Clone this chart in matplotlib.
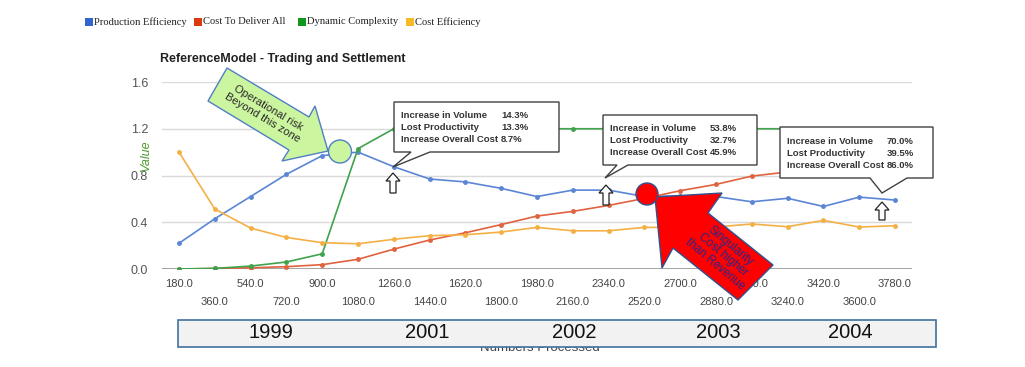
import matplotlib
matplotlib.use("Agg")
import matplotlib.pyplot as plt
from matplotlib.patches import Polygon, Rectangle, Ellipse

W, H = 1025, 367

numbers = [180, 360, 540, 720, 900, 1080, 1260, 1440, 1620, 1800, 1980,
           2160, 2340, 2520, 2700, 2880, 3060, 3240, 3420, 3600, 3780]
production_eff = [0.22, 0.43, 0.62, 0.81, 0.97, 1.00, 0.875, 0.77, 0.745, 0.69, 0.62,
                  0.675, 0.675, 0.62, 0.625, 0.62, 0.575, 0.605, 0.535, 0.615, 0.59]
cost_deliver = [0.0, 0.005, 0.01, 0.02, 0.037, 0.083, 0.17, 0.248, 0.31, 0.38, 0.453,
                0.493, 0.544, 0.604, 0.67, 0.724, 0.795, 0.83, 0.89, 0.95, 1.0]
dynamic_cx = [0.0, 0.005, 0.025, 0.06, 0.13, 1.03, 1.2, 1.2, 1.2, 1.2, 1.2,
              1.2, 1.2, 1.2, 1.2, 1.2, 1.2, 1.2, 1.2, 1.2, 1.2]
cost_eff = [1.0, 0.513, 0.35, 0.27, 0.225, 0.216, 0.254, 0.285, 0.293, 0.316, 0.356,
            0.327, 0.327, 0.356, 0.356, 0.36, 0.385, 0.362, 0.416, 0.359, 0.37]

series = [("Production Efficiency", production_eff, "#5b86d6", "#3366cc"),
          ("Cost To Deliver All", cost_deliver, "#e0623f", "#dc3912"),
          ("Dynamic Complexity", dynamic_cx, "#3fa34d", "#109618"),
          ("Cost Efficiency", cost_eff, "#f4b045", "#f7b924")]

years = ["1999", "2001", "2002", "2003", "2004"]
callouts = [("14.3%", "13.3%", "8.7%"), ("53.8%", "32.7%", "45.9%"), ("70.0%", "39.5%", "86.0%")]
callout_rows = ["Increase in Volume", "Lost Productivity", "Increase Overall Cost"]

plt.rcParams['font.family'] = ['Liberation Sans', 'DejaVu Sans']

fig = plt.figure(figsize=(W / 100, H / 100), dpi=100)
ax = fig.add_axes([162 / W, 1 - 269 / H, 750 / W, 187 / H])


def fx(x, y):
    return (x / W, 1 - y / H)


def poly(pts, z=6, **kw):
    p = Polygon([fx(x, y) for x, y in pts], closed=True, transform=fig.transFigure,
                clip_on=False, zorder=z, **kw)
    ax.add_artist(p)


def ftext(x, y, s, z=8, **kw):
    ax.text(x / W, 1 - y / H, s, transform=fig.transFigure, clip_on=False, zorder=z, **kw)


for name, vals, c, _ in series:
    ax.plot(numbers, vals, color=c, lw=1.2, marker='o', ms=2.5, zorder=3)

ax.set_xlim(94.5, 3865.5)
ax.set_ylim(0, 1.6)
for s in ax.spines.values():
    s.set_visible(False)
ax.set_yticks([0, 0.4, 0.8, 1.2, 1.6], ["0.0", "0.4", "0.8", "1.2", "1.6"])
ax.grid(axis='y', color='#d9d9d9', lw=1)
ax.set_axisbelow(True)
ax.axhline(0, color='#9a9a9a', lw=2, zorder=2)
ax.tick_params(axis='y', length=0, pad=10, labelsize=9, labelcolor='#555555')

ax.set_xticks(numbers[::2], ["%.1f" % v for v in numbers[::2]])
ax.set_xticks(numbers[1::2], ["%.1f" % v for v in numbers[1::2]], minor=True)
ax.tick_params(axis='x', which='major', length=0, pad=7.5, labelsize=8, labelcolor='#444444')
ax.tick_params(axis='x', which='minor', length=0, pad=20.5, labelsize=8, labelcolor='#444444')

# title, axis labels, legend
fig.text(160 / W, 1 - 59 / H, "ReferenceModel - Trading and Settlement", fontsize=9,
         fontweight='bold', color='#222222', va='center')
fig.text(146 / W, 1 - 155 / H, "Value", rotation=90, color='#4e9a2e', style='italic',
         fontsize=9, ha='center', va='center')
# x axis title, mostly hidden behind the year band
ftext(540, 348, "Numbers Processed", z=4, fontsize=9.5, color='#444444',
      ha='center', va='center')

for (name, _, _, sq), x in zip(series, [85, 194, 298, 406]):
    fig.patches.append(Rectangle(fx(x, 26), 8 / W, 8 / H, transform=fig.transFigure,
                                 facecolor=sq, edgecolor='none'))
    fig.text((x + 9) / W, 1 - 22 / H, name, family='Liberation Serif', fontsize=7.6,
             color='#222222', va='center')

# callout boxes
boxes = [[(394, 102), (559, 102), (559, 152), (430, 152), (393, 167), (411, 152), (394, 152)],
         [(603, 115), (757, 115), (757, 165), (628, 165), (605, 178), (617, 165), (603, 165)],
         [(780, 127), (933, 127), (933, 178), (907, 178), (882, 193), (870, 178), (780, 178)]]
text_pos = [(401, 115), (610, 128), (787, 141)]
for pts, (tx, ty), vals in zip(boxes, text_pos, callouts):
    poly(pts, facecolor='white', edgecolor='#404040', lw=1)
    for i, (lab, v) in enumerate(zip(callout_rows, vals)):
        ftext(tx, ty + 12.3 * i, lab, fontsize=6.8, fontweight='bold', color='#333333', va='center')
        ftext(tx + 100, ty + 12.3 * i, v, fontsize=6.8, fontweight='bold', color='#333333', va='center')

# hollow up arrows
for cx, top, bot in [(393, 173, 193), (606, 185, 205), (882, 202, 220)]:
    poly([(cx, top), (cx + 7, top + 8), (cx + 3, top + 8), (cx + 3, bot), (cx - 3, bot),
          (cx - 3, top + 8), (cx - 7, top + 8)], z=7, facecolor='white', edgecolor='#222222', lw=0.9)

# operational risk arrow + circle
poly([(227, 68), (309, 117), (315, 106), (328, 151), (282, 161), (289, 150), (208, 101)],
     z=6, facecolor='#ccf5a0', edgecolor='#4f7fc4', lw=1)
ftext(265, 113, "Operational risk\nBeyond this zone", fontsize=8, color='#2a2a2a',
      rotation=-31, ha='center', va='center', rotation_mode='anchor', linespacing=1.1)
ax.add_artist(Ellipse(fx(340, 151.5), 23 / W, 23 / H, transform=fig.transFigure,
                      facecolor='#ccf5a0', edgecolor='#4f7fc4', lw=1, clip_on=False, zorder=6))

# singularity arrow + circle
poly([(655, 197), (722, 193), (708, 213), (773, 265), (738, 300), (673, 248), (662, 268)],
     z=6, facecolor='#ff0000', edgecolor='#2f528f', lw=1)
ftext(723, 255, "Singularity\nCost higher\nthan Revenue", fontsize=8.5, color='#27298a',
      rotation=-40, ha='center', va='center', rotation_mode='anchor', linespacing=1.0)
ax.add_artist(Ellipse(fx(647, 194), 22 / W, 22 / H, transform=fig.transFigure,
                      facecolor='#ff0000', edgecolor='#2f528f', lw=1, clip_on=False, zorder=6))

# year band
ax.add_artist(Rectangle(fx(178, 347), 758 / W, 27 / H, transform=fig.transFigure,
                        facecolor='#f2f2f2', edgecolor='#41719c', lw=1.2, clip_on=False, zorder=5))
for yr, x in zip(years, [271, 427, 574, 718, 850]):
    ftext(x, 333, yr, fontsize=14.5, family=['Liberation Sans Narrow', 'Liberation Sans'],
          color='#111111', ha='center', va='center')

fig.savefig("out.png", dpi=100)
